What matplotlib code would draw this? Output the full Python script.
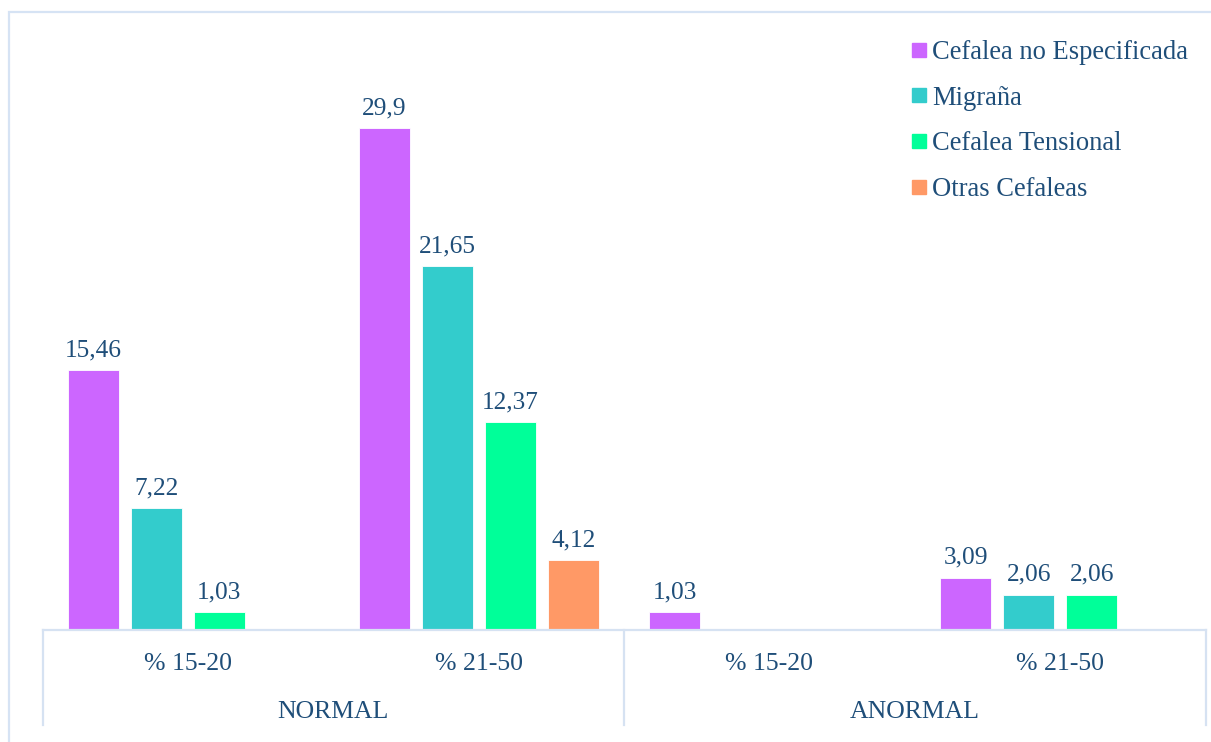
import numpy as np
import matplotlib
matplotlib.use("Agg")
import matplotlib.pyplot as plt
from matplotlib.lines import Line2D
from matplotlib.patches import Rectangle

plt.rcParams['font.family'] = ['Liberation Serif', 'DejaVu Serif']

subcats = ["% 15-20", "% 21-50", "% 15-20", "% 21-50"]
groups = ["NORMAL", "ANORMAL"]
series = ["Cefalea no Especificada", "Migraña", "Cefalea Tensional", "Otras Cefaleas"]
colors = ["#CC66FF", "#33CCCC", "#00FF99", "#FF9966"]
values = [
    [15.46, 29.9, 1.03, 3.09],
    [7.22, 21.65, np.nan, 2.06],
    [1.03, 12.37, np.nan, 2.06],
    [np.nan, 4.12, np.nan, np.nan],
]

W, H = 1211, 742
fig = plt.figure(figsize=(W / 100, H / 100), dpi=100)
txt = "#1F4E79"
grid_c = "#D6E2F2"

# chart border
fig.patches.append(Rectangle((8.5 / W, -0.1), 1.2, (H - 12) / H + 0.1, transform=fig.transFigure,
                             fill=False, edgecolor="#D6E3F4", linewidth=1.6))

ax_w = 1163.0
ax = fig.add_axes([42.6 / W, 112.5 / H, ax_w / W, 587.0 / H])
ax.set_xlim(-0.5, 3.5)
ax.set_ylim(0, 35)
for s in ax.spines.values():
    s.set_visible(False)
ax.set_xticks([])
ax.set_yticks([])

x = np.arange(len(subcats))
bw = 51.0 / (ax_w / 4)
step = 63.0 / (ax_w / 4)
for i, (name, col, vals) in enumerate(zip(series, colors, values)):
    off = (i - 1.5) * step
    for xi, v in zip(x, vals):
        if np.isnan(v):
            continue
        ax.bar(xi + off, v, width=bw, color=col, edgecolor="white", linewidth=0.6, zorder=2)
        ax.annotate(f"{v:g}".replace('.', ','), (xi + off, v), xytext=(0, 6.5),
                    textcoords="offset points", ha="center", va="bottom",
                    fontsize=18.3, color=txt)

# category axis
ax.plot([-0.5, 3.5], [0, 0], color=grid_c, lw=1.6, clip_on=False, zorder=3)
tr = ax.get_xaxis_transform()
for xv in [-0.5, 1.5, 3.5]:
    ax.plot([xv, xv], [0, -95 / 587.0], color=grid_c, lw=1.6, transform=tr, clip_on=False)
for xi, lab in zip(x, subcats):
    ax.text(xi, -34 / 587.0, lab, transform=tr, ha="center", va="center", fontsize=18.5, color=txt)
for gi, g in enumerate(groups):
    ax.text(0.5 + 2 * gi, -82 / 587.0, g, transform=tr, ha="center", va="center", fontsize=18.5, color=txt)

handles = [Line2D([], [], marker='s', linestyle='', color=c, markersize=10.5) for c in colors]
leg = fig.legend(handles, series, loc="upper left", bbox_to_anchor=(911 / W, 1 - 40 / H),
                 frameon=False, fontsize=19.1, labelcolor=txt, handlelength=0.6,
                 handletextpad=0.2, labelspacing=0.78, borderaxespad=0, borderpad=0)

fig.savefig("out.png", dpi=100)
